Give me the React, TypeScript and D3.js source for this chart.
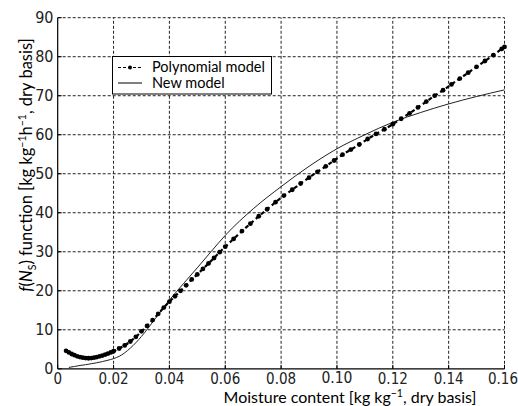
import React from "react";
import * as d3 from "d3";

const polyX = [0.003,0.004,0.005,0.006,0.007,0.008,0.009,0.010,0.011,0.012,0.013,0.014,0.015,0.016,0.017,0.018,0.019,0.020,0.022,0.024,0.026,0.028,0.030,0.032,0.034,0.036,0.038,0.040,0.042,0.044,0.046,0.048,0.050,0.052,0.054,0.056,0.058,0.060,0.063,0.066,0.069,0.072,0.075,0.078,0.081,0.084,0.087,0.090,0.093,0.096,0.099,0.102,0.105,0.108,0.111,0.114,0.117,0.120,0.123,0.126,0.129,0.132,0.135,0.138,0.141,0.144,0.147,0.150,0.153,0.156,0.159,0.160];
const polyY = [4.6,4.2,3.8,3.5,3.2,3.0,2.85,2.75,2.7,2.75,2.85,3.0,3.2,3.4,3.65,3.9,4.2,4.5,5.2,6.0,7.0,8.2,9.6,11.0,12.5,14.1,15.7,17.2,18.6,20.0,21.4,22.9,24.2,25.6,27.0,28.4,29.9,31.3,33.3,35.3,37.2,39.1,40.9,42.7,44.4,45.9,47.5,49.0,50.5,51.9,53.4,54.9,56.2,57.5,58.9,60.2,61.4,62.7,64.1,65.5,67.0,68.5,70.0,71.4,72.9,74.4,75.9,77.4,78.9,80.4,82.0,82.5];

const newX = [0.004,0.006,0.008,0.010,0.012,0.014,0.016,0.018,0.020,0.022,0.024,0.026,0.028,0.030,0.035,0.040,0.045,0.050,0.055,0.060,0.070,0.080,0.090,0.100,0.110,0.120,0.130,0.140,0.150,0.160];
const newY = [0.35,0.6,0.85,1.05,1.3,1.55,1.85,2.2,2.6,3.2,4.1,5.3,6.7,8.3,12.9,17.6,21.8,25.9,30.1,34.2,41.0,46.7,51.9,56.4,60.0,63.2,65.7,67.9,69.8,71.5];

const xTicks = [0,0.02,0.04,0.06,0.08,0.10,0.12,0.14,0.16];
const xTickLabels = ["0","0.02","0.04","0.06","0.08","0.10","0.12","0.14","0.16"];
const yTicks = [0,10,20,30,40,50,60,70,80,90];

const seriesNames = ["Polynomial model", "New model"];

export default function App() {
  const W = 518, H = 406;
  const x = d3.scaleLinear().domain([0, 0.16]).range([57.7, 504.5]);
  const y = d3.scaleLinear().domain([0, 90]).range([368.8, 17.7]);
  const polyPts: [number, number][] = polyX.map((v, i) => [v, polyY[i]]);
  const newPts: [number, number][] = newX.map((v, i) => [v, newY[i]]);
  const line = d3.line<[number, number]>().x(d => x(d[0])).y(d => y(d[1])).curve(d3.curveMonotoneX);
  const tickFont = "'Liberation Sans Narrow', 'DejaVu Sans Condensed', sans-serif";
  const labelFont = "Lato, 'Open Sans', sans-serif";
  const x0 = x.range()[0], x1 = x.range()[1];
  const y0 = y.range()[0], y1 = y.range()[1];
  return (
    <svg width={W} height={H} style={{ position: "absolute", left: 0, top: 0, background: "#fff" }}>
      <rect x={0} y={0} width={W} height={H} fill="#fff" />
      {/* grid */}
      {xTicks.slice(1).map((t, i) => (
        <line key={"gx" + i} x1={x(t)} x2={x(t)} y1={y0} y2={y1} stroke="#222" strokeWidth={1} strokeDasharray="3,2" />
      ))}
      {yTicks.slice(1).map((t, i) => (
        <line key={"gy" + i} x1={x0} x2={x1} y1={y(t)} y2={y(t)} stroke="#222" strokeWidth={1} strokeDasharray="3,2" />
      ))}
      {/* axes */}
      <line x1={x0} x2={x1} y1={y0} y2={y0} stroke="#000" strokeWidth={1.2} />
      <line x1={x0} x2={x0} y1={y0} y2={y1} stroke="#000" strokeWidth={1.2} />
      {xTicks.map((t, i) => (
        <line key={"tx" + i} x1={x(t)} x2={x(t)} y1={y0} y2={y0 - 4} stroke="#000" strokeWidth={1} />
      ))}
      {yTicks.map((t, i) => (
        <line key={"ty" + i} x1={x0} x2={x0 + 4} y1={y(t)} y2={y(t)} stroke="#000" strokeWidth={1} />
      ))}
      {xTicks.map((t, i) => (
        <text key={"lx" + i} x={i === 8 ? x(t) - 1.5 : x(t)} y={i === 5 ? 382.5 : 384} textAnchor="middle" fontFamily={tickFont}
          fontSize={i === 5 ? 15.5 : 15} fill="#222">{xTickLabels[i]}</text>
      ))}
      {yTicks.map((t, i) => (
        <text key={"ly" + i} x={53.5} y={y(t) + 5.5} textAnchor="end" fontFamily={tickFont} fontSize={16} fill="#222">{t}</text>
      ))}
      {/* new model */}
      <path d={line(newPts) || ""} fill="none" stroke="#222" strokeWidth={1} />
      {/* polynomial model */}
      <path d={line(polyPts) || ""} fill="none" stroke="#000" strokeWidth={2.2} strokeDasharray="4,3" />
      {polyPts.map((p, i) => (
        <circle key={"pp" + i} cx={x(p[0])} cy={y(p[1])} r={2.4} fill="#000" />
      ))}
      {/* legend */}
      <rect x={112.5} y={56.5} width={159} height={37.5} fill="#fff" stroke="#000" strokeWidth={1} />
      <line x1={118} x2={142} y1={67.5} y2={67.5} stroke="#000" strokeWidth={1} strokeDasharray="3,2" />
      <circle cx={130} cy={67.5} r={2} fill="#000" />
      <line x1={118} x2={142} y1={83} y2={83} stroke="#000" strokeWidth={1} />
      <text x={152} y={71.5} fontFamily={labelFont} fontSize={14.5} fill="#000">{seriesNames[0]}</text>
      <text x={152} y={88} fontFamily={labelFont} fontSize={14.5} fill="#000">{seriesNames[1]}</text>
      {/* x label */}
      <text x={350} y={402.5} textAnchor="middle" fontFamily={labelFont} fontSize={16} fill="#000">
        Moisture content [kg kg<tspan dy={-6} fontSize={10.5}>−1</tspan><tspan dy={6}>, dry basis]</tspan>
      </text>
      {/* y label */}
      <text transform="translate(32,165) rotate(-90)" textAnchor="middle" fontFamily={labelFont} fontSize={16.5} fill="#000">
        <tspan fontStyle="italic">f</tspan>(<tspan fontStyle="italic">N</tspan><tspan dy={4} fontSize={10.5}>S</tspan><tspan dy={-4}>) function [kg kg</tspan><tspan dy={-6} fontSize={10.5}>−1</tspan><tspan dy={6}>h</tspan><tspan dy={-6} fontSize={10.5}>−1</tspan><tspan dy={6}>, dry basis]</tspan>
      </text>
    </svg>
  );
}
